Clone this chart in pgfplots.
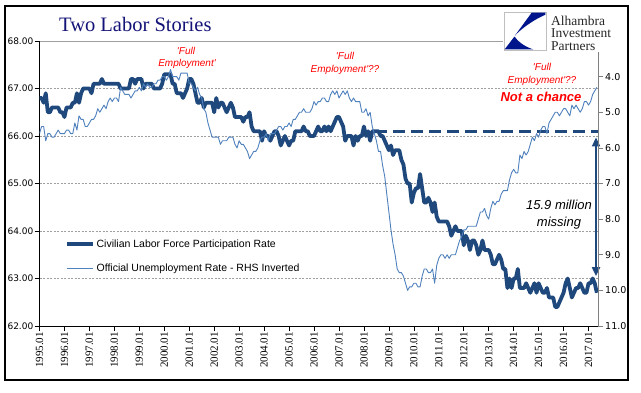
\documentclass[border=0pt]{standalone}
\usepackage{fontspec}
\setmainfont{Liberation Sans}
\newfontfamily\seriffont{Liberation Serif}
\newfontfamily\dvfont{DejaVu Sans}
\usepackage{pgfplots}
\usepackage{pgfplotstable}
\pgfplotsset{compat=1.18}
\usetikzlibrary{arrows.meta}
\definecolor{lfprblue}{RGB}{31,73,125}
\definecolor{unblue}{RGB}{79,129,189}
\definecolor{titleblue}{RGB}{20,20,120}
\definecolor{logoblue}{RGB}{0,20,140}
\definecolor{annred}{RGB}{255,0,0}
\definecolor{gridgray}{RGB}{160,160,160}

% monthly data, Jan 1995 - May 2017: participation rate (LHS), unemployment rate (RHS)
\pgfplotstableread{
lfpr unr
66.8 5.6
66.8 5.4
66.7 5.4
66.9 5.8
66.5 5.6
66.5 5.6
66.6 5.7
66.6 5.7
66.6 5.6
66.6 5.5
66.5 5.6
66.5 5.6
66.4 5.6
66.6 5.5
66.6 5.5
66.6 5.6
66.7 5.6
66.7 5.3
66.9 5.5
66.7 5.1
66.9 5.2
67.0 5.2
67.0 5.4
67.0 5.4
67.0 5.3
66.9 5.2
67.1 5.2
67.1 5.1
67.1 4.9
67.1 5.0
67.2 4.9
67.1 4.8
67.1 4.9
67.1 4.7
67.1 4.6
67.1 4.7
67.1 4.6
67.1 4.6
67.1 4.7
67.0 4.3
67.0 4.4
67.0 4.5
67.0 4.5
67.0 4.5
67.2 4.6
67.2 4.5
67.1 4.4
67.2 4.4
67.2 4.3
67.2 4.4
67.0 4.2
67.1 4.3
67.1 4.2
67.1 4.3
67.1 4.3
67.0 4.2
67.0 4.2
67.0 4.1
67.0 4.1
67.1 4.0
67.3 4.0
67.3 4.1
67.3 4.0
67.3 3.8
67.1 4.0
67.1 4.0
66.9 4.0
66.9 4.1
66.9 3.9
66.8 3.9
66.9 3.9
67.0 3.9
67.2 4.2
67.2 4.2
67.1 4.3
66.9 4.4
66.7 4.3
66.7 4.5
66.8 4.6
66.6 4.9
66.7 5.0
66.7 5.3
66.7 5.5
66.7 5.7
66.5 5.7
66.8 5.7
66.6 5.7
66.7 5.9
66.7 5.8
66.6 5.8
66.5 5.8
66.6 5.7
66.7 5.7
66.6 5.7
66.4 5.9
66.4 6.0
66.4 5.8
66.4 5.9
66.3 5.9
66.4 6.0
66.4 6.1
66.5 6.3
66.2 6.2
66.1 6.1
66.1 6.1
66.1 6.0
66.1 5.8
65.9 5.7
66.1 5.7
66.0 5.6
66.0 5.8
65.9 5.6
66.0 5.6
66.1 5.6
66.1 5.5
66.0 5.4
65.8 5.4
65.9 5.5
66.0 5.4
65.9 5.4
65.8 5.3
65.9 5.4
65.9 5.2
66.1 5.2
66.1 5.1
66.1 5.0
66.1 5.0
66.2 4.9
66.1 5.0
66.1 5.0
66.0 5.0
66.0 4.9
66.0 4.7
66.1 4.8
66.2 4.7
66.1 4.7
66.1 4.6
66.2 4.6
66.1 4.7
66.2 4.7
66.1 4.5
66.2 4.4
66.3 4.5
66.4 4.4
66.4 4.6
66.3 4.5
66.2 4.4
65.9 4.5
66.0 4.4
66.0 4.6
66.0 4.7
65.8 4.6
66.0 4.7
65.9 4.7
66.0 4.7
66.0 5.0
66.2 5.0
66.0 4.9
66.1 5.1
65.9 5.0
66.1 5.4
66.1 5.6
66.1 5.8
66.1 6.1
66.0 6.1
66.0 6.5
65.9 6.8
65.8 7.3
65.7 7.8
65.8 8.3
65.6 8.7
65.7 9.0
65.7 9.4
65.7 9.5
65.5 9.5
65.4 9.6
65.1 9.8
65.0 10.0
65.0 9.9
64.6 9.9
64.8 9.8
64.9 9.8
64.9 9.9
65.2 9.9
64.9 9.6
64.6 9.4
64.6 9.4
64.7 9.5
64.6 9.5
64.4 9.4
64.6 9.8
64.3 9.3
64.2 9.1
64.2 9.0
64.2 9.0
64.2 9.1
64.2 9.0
64.1 9.1
63.9 9.0
64.0 9.0
64.1 9.0
64.0 8.8
64.0 8.6
64.0 8.5
63.7 8.3
63.9 8.3
63.8 8.2
63.6 8.2
63.8 8.2
63.8 8.2
63.7 8.2
63.5 8.0
63.6 7.8
63.8 7.8
63.6 7.7
63.6 7.9
63.6 8.0
63.5 7.7
63.3 7.5
63.3 7.6
63.4 7.5
63.5 7.5
63.4 7.3
63.2 7.2
63.2 7.2
62.8 7.2
63.0 6.9
62.8 6.7
63.0 6.6
63.0 6.7
63.2 6.7
62.8 6.2
62.8 6.3
62.8 6.1
62.9 6.2
62.8 6.1
62.7 5.9
62.8 5.7
62.9 5.8
62.7 5.6
62.9 5.7
62.8 5.5
62.7 5.4
62.7 5.4
62.8 5.6
62.6 5.3
62.6 5.2
62.6 5.1
62.4 5.0
62.4 5.0
62.5 5.1
62.6 5.0
62.7 4.9
62.9 4.9
63.0 5.0
62.8 5.1
62.6 4.8
62.7 4.9
62.8 4.8
62.8 4.9
62.9 5.0
62.8 4.9
62.7 4.7
62.7 4.7
62.9 4.8
62.9 4.7
63.0 4.5
62.9 4.4
62.7 4.3
}\data

\begin{document}
\begin{tikzpicture}[x=1bp,y=1bp]
\useasboundingbox (0,0) rectangle (641,392);
\fill[white] (0,0) rectangle (641,392);

\begin{axis}[
  at={(39.5bp,66bp)}, anchor=south west, scale only axis,
  width=558.5bp, height=285bp,
  xmin=1995, xmax=2017.38, ymin=62, ymax=68,
  axis x line*=bottom, axis y line*=left,
  axis line style={black, line width=0.9bp, -},
  clip mode=individual,
  xtick={1995,1996,1997,1998,1999,2000,2001,2002,2003,2004,2005,2006,2007,2008,2009,2010,2011,2012,2013,2014,2015,2016,2017},
  xticklabels={1995.01,1996.01,1997.01,1998.01,1999.01,2000.01,2001.01,2002.01,2003.01,2004.01,2005.01,2006.01,2007.01,2008.01,2009.01,2010.01,2011.01,2012.01,2013.01,2014.01,2015.01,2016.01,2017.01},
  xticklabel style={rotate=90, anchor=east, font=\fontsize{11bp}{12bp}\seriffont, inner sep=1bp},
  ytick={62,63,64,65,66,67,68},
  yticklabel style={font=\fontsize{9bp}{11bp}\dvfont, inner sep=1bp,
    /pgf/number format/.cd, fixed, fixed zerofill, precision=2, assume math mode=true},
  tick align=outside, major tick length=5bp,
  tick style={black, line width=0.6bp},
  ymajorgrids, grid style={gridgray, dash pattern=on 2bp off 1.5bp, line width=0.5bp},
  legend style={draw=none, fill=none, at={(0.045,0.31)}, anchor=north west,
    font=\fontsize{10.5bp}{12bp}\selectfont, row sep=10.5bp, inner sep=0pt},
  legend cell align=left,
  legend image code/.code={\draw[#1] (0bp,0bp) -- (26bp,0bp);},
]
\draw[gridgray, line width=0.8bp] (rel axis cs:0,1) -- (rel axis cs:1,1);
\addplot[lfprblue, line width=3.8bp, line join=round] table[x expr=1995+\coordindex/12, y=lfpr] {\data};
\addlegendentry{Civilian Labor Force Participation Rate}
\addlegendimage{unblue, line width=0.9bp}
\addlegendentry{Official Unemployment Rate - RHS Inverted}
\addplot[lfprblue, line width=3bp, dash pattern=on 12bp off 6bp, forget plot] coordinates {(2008.45,66.1) (2017.38,66.1)};
\draw[lfprblue, line width=2bp, {Triangle[width=8bp,length=9bp]}-{Triangle[width=8bp,length=9bp]}] (axis cs:2017.3,65.97) -- (axis cs:2017.3,63.05);
\end{axis}

\begin{axis}[
  at={(39.5bp,66bp)}, anchor=south west, scale only axis,
  width=558.5bp, height=285bp,
  xmin=1995, xmax=2017.38, ymin=3, ymax=11, y dir=reverse,
  axis x line=none, axis y line*=right,
  axis line style={gray, line width=0.8bp, -},
  ytick={4,5,6,7,8,9,10,11},
  yticklabel style={font=\fontsize{9.5bp}{11bp}\dvfont, anchor=west, inner sep=1bp, xshift=1bp,
    /pgf/number format/.cd, fixed, fixed zerofill, precision=1, assume math mode=true},
  tick align=outside, major tick length=5bp,
  tick style={gray, line width=0.6bp},
]
\addplot[unblue, line width=0.9bp, line join=round] table[x expr=1995+\coordindex/12, y=unr] {\data};
\end{axis}

% logo
\fill[white] (503,340.5) rectangle (626,383);
\draw[gray!50, line width=0.6bp, fill=white] (504,342) rectangle (546,380);
\fill[logoblue] (531.7,379.4) -- (545.4,379.4) -- (545.4,377.3)
  .. controls (533,372) and (521,363) .. (515,356.5) -- cycle;
\fill[logoblue] (504.6,342.6) -- (533.3,342.6)
  .. controls (524,345.5) and (517.5,351) .. (514.5,355.5) -- cycle;
\node[anchor=north west, align=left, inner sep=0, font=\fontsize{13.5bp}{12.6bp}\seriffont, text=black!85] at (551,376.5) {Alhambra\\Investment\\Partners};

% title
\node[anchor=base west, inner sep=0, font=\fontsize{20.5bp}{22bp}\seriffont, text=titleblue] at (59,360.5) {Two Labor Stories};

% annotations
\begin{scope}[every node/.style={inner sep=0, text=annred, font=\fontsize{10bp}{12bp}\itshape}]
\node at (186,341) {\textquotesingle Full};
\node at (187,328) {Employment\textquotesingle};
\node at (345,336) {\textquotesingle Full};
\node at (345,322) {Employment\textquotesingle ??};
\node at (542,325) {\textquotesingle Full};
\node at (542,311) {Employment\textquotesingle ??};
\end{scope}
\node[inner sep=0, text=annred, font=\fontsize{13bp}{15bp}\bfseries\itshape] at (541,295) {Not a chance};
\node[inner sep=0, font=\fontsize{13bp}{15bp}\itshape] at (559,187) {15.9 million};
\node[inner sep=0, font=\fontsize{13bp}{15bp}\itshape] at (559,169) {missing};

% frame
\draw[black, line width=1.3bp] (5,12) rectangle (628,386);
\end{tikzpicture}
\end{document}
